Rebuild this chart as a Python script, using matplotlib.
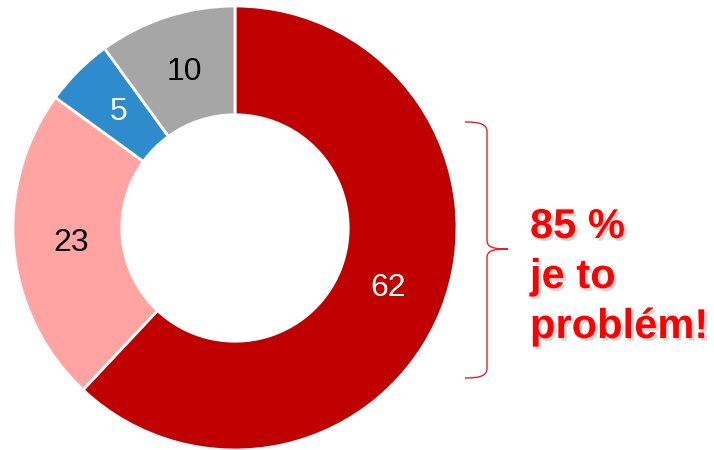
import matplotlib
matplotlib.use('Agg')
import matplotlib.pyplot as plt
import matplotlib.patheffects as pe
from matplotlib.path import Path
from matplotlib.patches import PathPatch
import numpy as np

plt.rcParams['font.family'] = ['Liberation Sans', 'DejaVu Sans']

# data
values = [62, 23, 5, 10]
labels = ['62', '23', '5', '10']
colors = ['#C00000', '#FFA3A3', '#2E8BCC', '#A6A6A6']
label_colors = ['white', 'black', 'white', 'black']
callout_lines = ['85 %', 'je to', 'problém!']

W, H = 714, 450
fig = plt.figure(figsize=(W / 100, H / 100), dpi=100)

# donut, centre (235, 228) px, outer radius 222 px
cx, cy, r = 235, 228, 222
ax = fig.add_axes([(cx - r) / W, (H - cy - r) / H, 2 * r / W, 2 * r / H])
wedges, _ = ax.pie(values, colors=colors, startangle=90, counterclock=False,
                   radius=1.0, wedgeprops=dict(width=0.49, edgecolor='white', linewidth=2))
ax.set_xlim(-1, 1)
ax.set_ylim(-1, 1)
ax.set_aspect('equal')
ax.axis('off')

total = sum(values)
start = 90.0
for v, lab, lc in zip(values, labels, label_colors):
    sweep = v / total * 360
    mid = np.deg2rad(start - sweep / 2)
    ax.text(0.74 * np.cos(mid), 0.74 * np.sin(mid), lab, ha='center', va='center',
            fontsize=23, color=lc)
    start -= sweep

# overlay in pixel coords for bracket and callout
ov = fig.add_axes([0, 0, 1, 1])
ov.set_xlim(0, W)
ov.set_ylim(H, 0)
ov.axis('off')

verts = [(465, 122), (480, 122), (487, 124), (487, 132),
         (487, 240),
         (487, 247), (492, 249), (508, 249),
         (492, 249), (487, 251), (487, 258),
         (487, 368),
         (487, 376), (480, 378), (465, 378)]
codes = [Path.MOVETO, Path.CURVE4, Path.CURVE4, Path.CURVE4,
         Path.LINETO,
         Path.CURVE4, Path.CURVE4, Path.CURVE4,
         Path.CURVE4, Path.CURVE4, Path.CURVE4,
         Path.LINETO,
         Path.CURVE4, Path.CURVE4, Path.CURVE4]
ov.add_patch(PathPatch(Path(verts, codes), fill=False, edgecolor='#E8202A', linewidth=1))

shadow = [pe.SimplePatchShadow(offset=(2, -2), shadow_rgbFace='black', alpha=0.15), pe.Normal()]
for line, y in zip(callout_lines, [238, 288, 338]):
    ov.text(530, y, line, ha='left', va='baseline', fontsize=30, fontweight='bold',
            color='#FF0000', path_effects=shadow)

fig.savefig('out.png', dpi=100)
